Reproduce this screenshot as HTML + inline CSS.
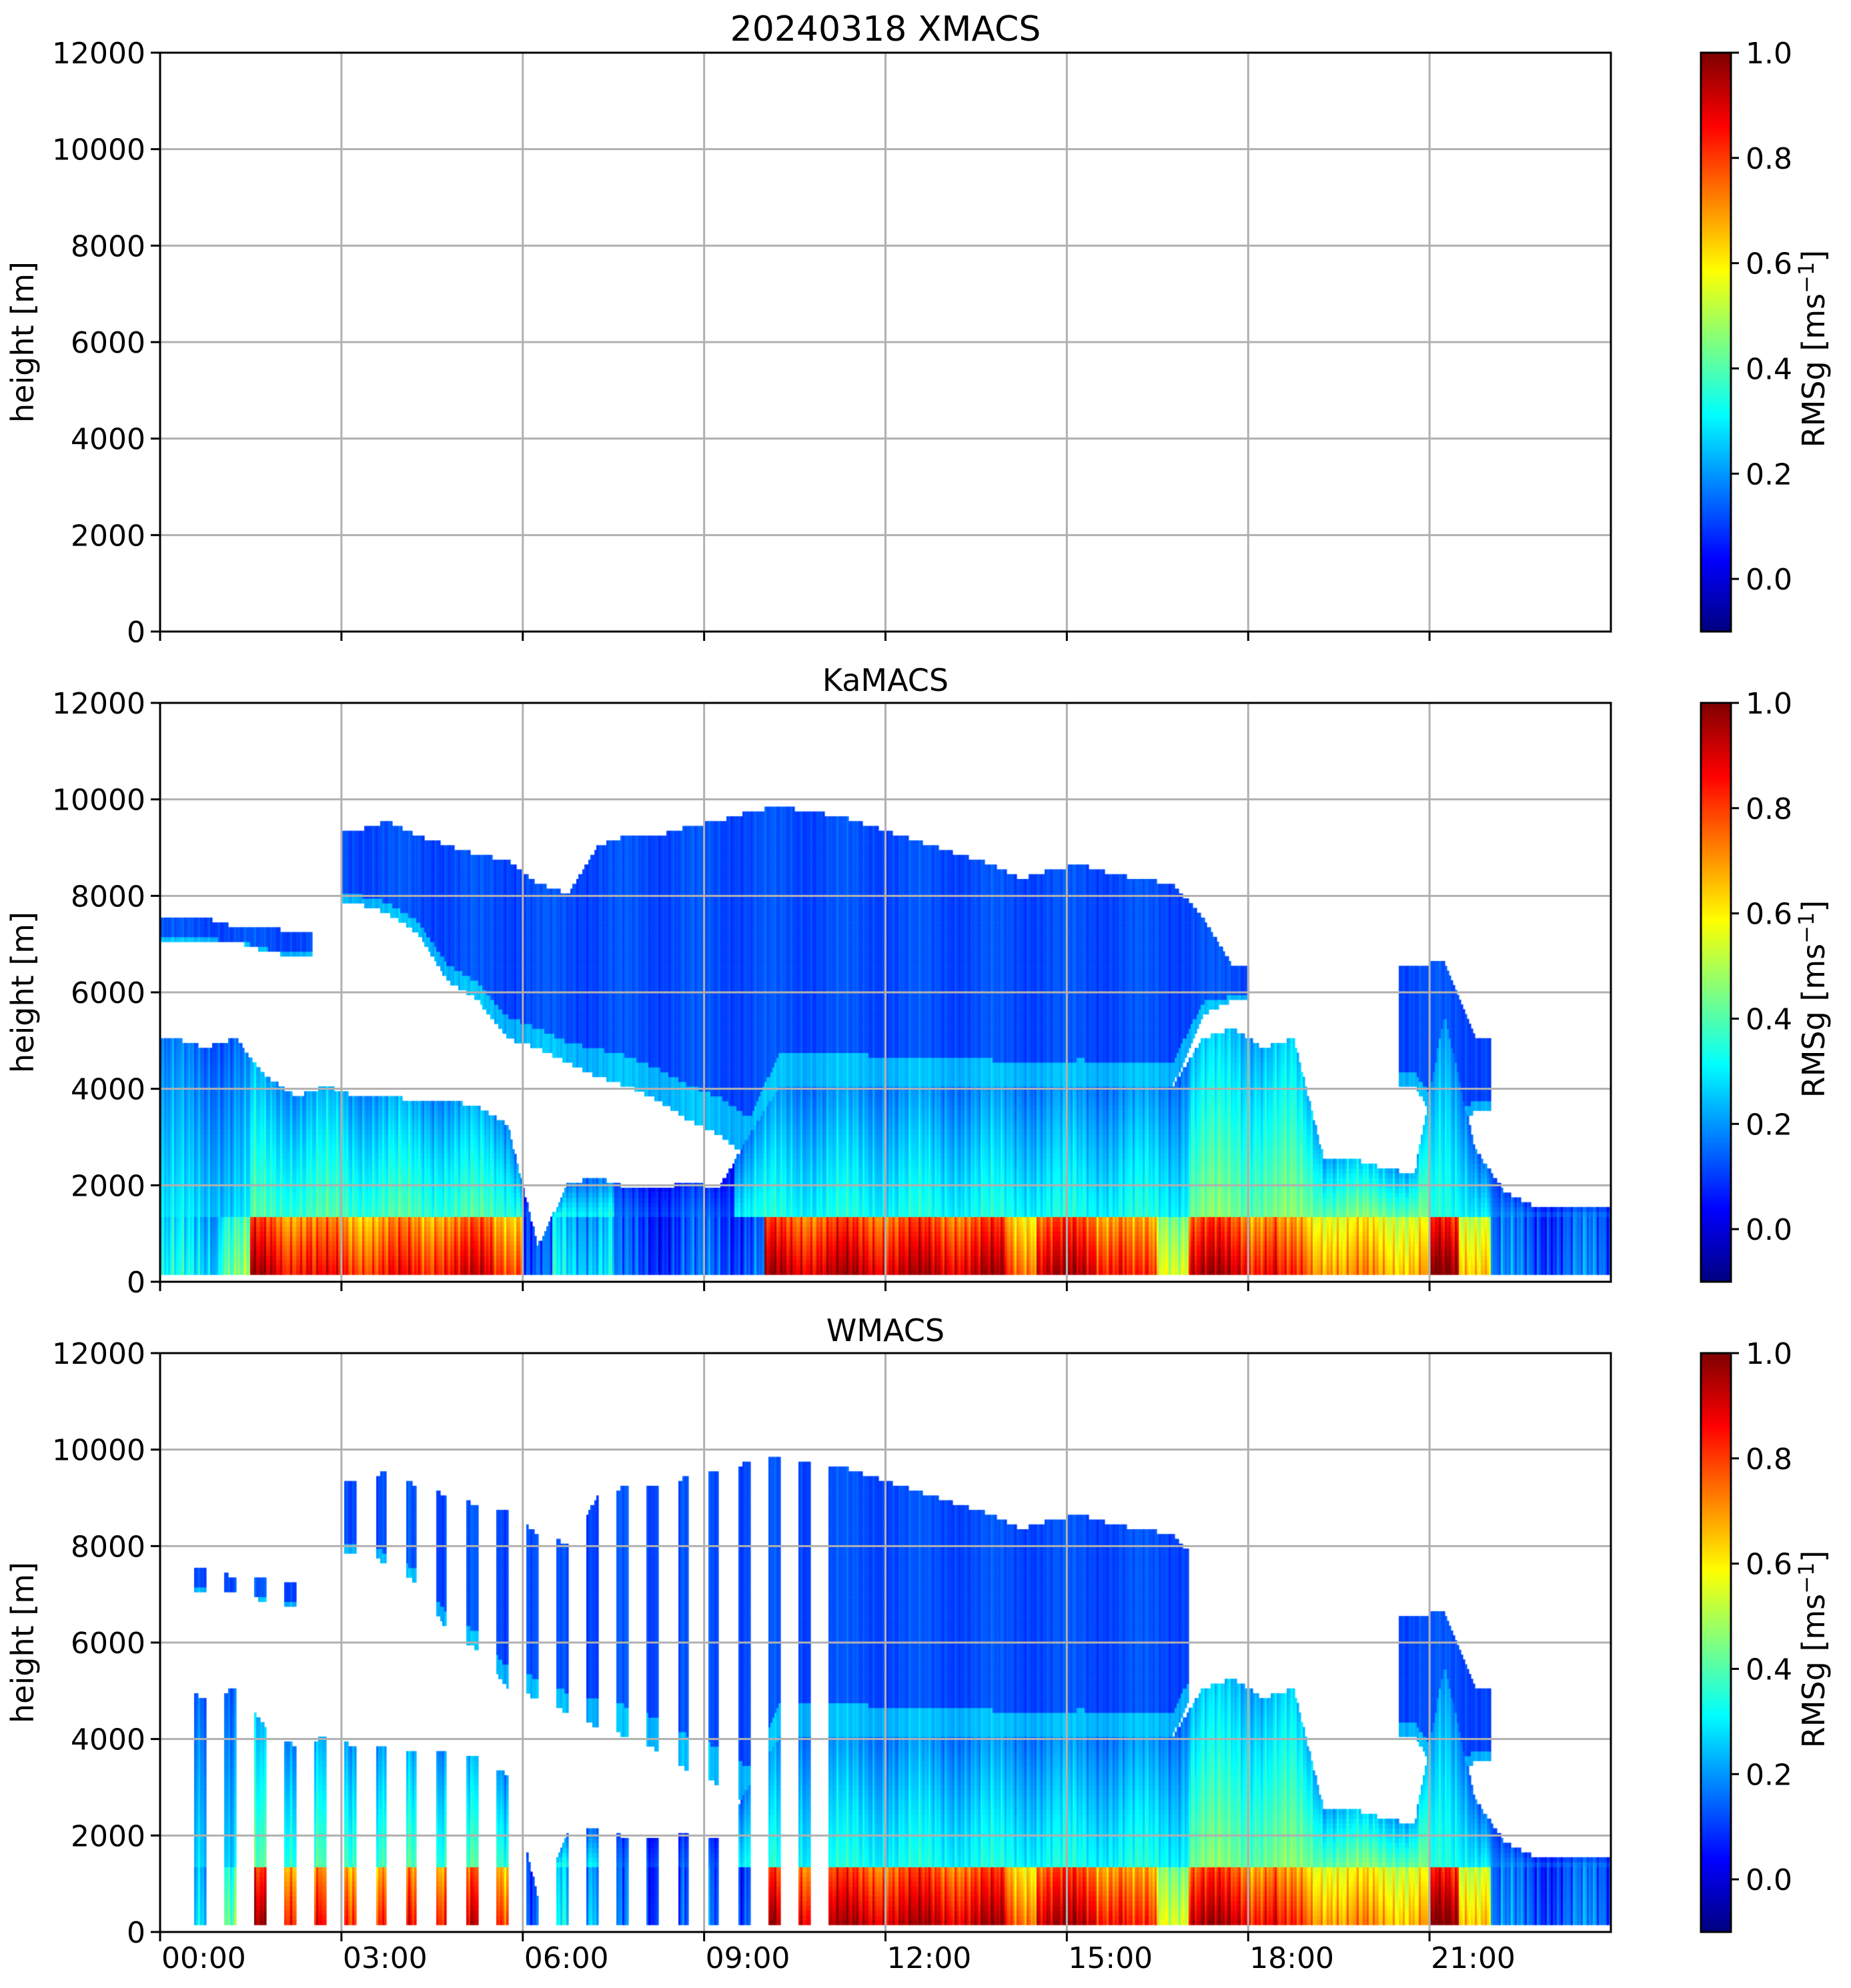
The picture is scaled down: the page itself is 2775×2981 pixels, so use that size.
<!DOCTYPE html>
<html><head><meta charset="utf-8">
<style>
html,body{margin:0;padding:0;background:#fff;}
#root{position:relative;width:2775px;height:2981px;overflow:hidden;font-family:"DejaVu Sans","Liberation Sans",sans-serif;}
canvas{position:absolute;}
svg{position:absolute;left:0;top:0;}
</style></head>
<body>
<div id="root">
<canvas id="cv" width="2775" height="2981" style="left:0;top:0"></canvas>
<svg id="sv" width="2775" height="2981"></svg>
</div>
<script>
// ---- data (half-hour bins, 48 bins covering 00:00-24:00) ----
const binHours = [0,0.5,1,1.5,2,2.5,3,3.5,4,4.5,5,5.5,6,6.5,7,7.5,8,8.5,9,9.5,10,10.5,11,11.5,12,12.5,13,13.5,14,14.5,15,15.5,16,16.5,17,17.5,18,18.5,19,19.5,20,20.5,21,21.5,22,22.5,23,23.5];
const lowTop  = [5000,4800,5000,4200,3800,4000,3800,3800,3700,3700,3600,3200,700,2000,2100,1900,1900,2000,1900,3000,4000,4000,4000,4000,4000,4000,4000,4000,4000,4000,4000,4000,4000,4000,5000,5200,4800,5000,2500,2500,2300,2200,5500,2700,1800,1500,1500,1500];
const upBase  = [7000,7000,7000,6800,6700,0,7800,7600,7200,6200,5800,5000,4800,4500,4200,4000,3700,3300,3000,2500,4000,4000,4000,4000,4000,4000,4000,4000,4000,4000,4000,4000,4000,4000,5500,5800,0,0,0,0,0,4000,3000,3500,0,0,0,0];
const upTop   = [7500,7500,7300,7300,7200,0,9300,9500,9200,9000,8800,8700,8200,8000,9000,9200,9200,9400,9500,9700,9800,9700,9600,9400,9200,9000,8800,8600,8300,8500,8600,8400,8300,8200,7500,6500,0,0,0,0,0,6500,6600,5000,0,0,0,0];
const blVal   = [0.3,0.3,0.45,0.95,0.9,0.85,0.85,0.85,0.85,0.9,0.9,0.85,0.12,0.3,0.3,0.12,0.12,0.12,0.15,0.15,0.95,0.95,0.95,0.95,0.95,0.95,0.95,0.95,0.8,0.95,0.95,0.9,0.8,0.6,0.95,0.95,0.9,0.8,0.75,0.7,0.7,0.7,1.0,0.7,0.15,0.15,0.15,0.15];
const lowVal  = [0.25,0.25,0.25,0.35,0.35,0.35,0.35,0.35,0.35,0.35,0.35,0.35,0.12,0.3,0.3,0.12,0.12,0.12,0.12,0.3,0.3,0.3,0.3,0.3,0.3,0.3,0.3,0.3,0.3,0.3,0.3,0.3,0.3,0.3,0.4,0.4,0.4,0.4,0.4,0.4,0.4,0.4,0.3,0.3,0.15,0.15,0.15,0.15];
const upVal   = [0.12,0.12,0.12,0.12,0.12,0.12,0.12,0.12,0.12,0.12,0.12,0.12,0.12,0.12,0.12,0.12,0.12,0.12,0.12,0.12,0.12,0.12,0.12,0.12,0.12,0.12,0.12,0.12,0.12,0.12,0.12,0.12,0.12,0.12,0.12,0.12,0.12,0.12,0.12,0.12,0.12,0.12,0.12,0.12,0.12,0.12,0.12,0.12];
const blTop   = 1300;
// W-band sampling stripes (start hours, each ~0.19 h wide) before continuous operation
const wStripeStarts = [0.56,1.06,1.56,2.06,2.56,3.06,3.56,4.06,4.56,5.06,5.56,6.06,6.56,7.06,7.56,8.06,8.56,9.06,9.56,10.06,10.56,11.06];
const wStripeWidth = 0.19;
const wContinuousFrom = 11.24;
const wUpperEnd = 17.0;
// axis ticks
const yTicks = [0,2000,4000,6000,8000,10000,12000];
const xTicks = [0,3,6,9,12,15,18,21];
const xTickLabels = ["00:00","03:00","06:00","09:00","12:00","15:00","18:00","21:00"];
const cbTicks = [0.0,0.2,0.4,0.6,0.8,1.0];
const panelTitles = ["20240318 XMACS","KaMACS","WMACS"];

// ---- layout ----
const AX_L=240, AX_R=2415, AX_H=868;
const panelTops=[79,1054,2029];
const CB_L=2550, CB_W=45;
const VMIN=-0.1, VMAX=1.0;
function xScale(h){return AX_L+(AX_R-AX_L)*h/24;}
function yScale(m,top){return top+AX_H-AX_H*m/12000;}
function jet(v){
  let x=(v-VMIN)/(VMAX-VMIN); x=Math.max(0,Math.min(1,x));
  const c=t=>Math.round(255*Math.max(0,Math.min(1,t)));
  return [c(1.5-Math.abs(4*x-3)),c(1.5-Math.abs(4*x-2)),c(1.5-Math.abs(4*x-1))];
}
function interp(arr,t){
  const f=t/0.5-0.5; let i=Math.floor(f); const w=f-i;
  const i0=Math.max(0,Math.min(47,i)), i1=Math.max(0,Math.min(47,i+1));
  const a=arr[i0], b=arr[i1];
  if(a===0||b===0) return arr[Math.max(0,Math.min(47,Math.floor(t/0.5)))];
  return a+(b-a)*w;
}
const ctx=document.getElementById('cv').getContext('2d');
function drawPanel(top,isW){
  const NC=725, NR=118;
  const cw=(AX_R-AX_L)/NC;
  for(let ci=0;ci<NC;ci++){
    const t=(ci+0.5)*24/NC;
    if(isW && t<wContinuousFrom){
      let on=false;
      for(const s of wStripeStarts){ if(t>=s && t<s+wStripeWidth) on=true; }
      if(!on) continue;
    }
    const bi=Math.min(47,Math.floor(t/0.5));
    const lt=interp(lowTop,t), ub=interp(upBase,t), ut=interp(upTop,t);
    const tex=0.09*Math.sin(ci*1.91)*Math.cos(ci*0.53)+0.05*Math.sin(ci*0.17);
    for(let ri=0;ri<NR;ri++){
      const h=150+ri*100;
      let v=null;
      if(h<Math.min(blTop,lt)){ v=blVal[bi]*(0.8+0.2*(1-h/blTop))+tex; }
      else if(h<lt){ const fr=(h-blTop)/Math.max(1,lt-blTop); v=lowVal[bi]*(1.1-0.5*fr)+tex*0.6; }
      else if(upTop[bi]>0 && h>=ub && h<ut && !(isW && t>wUpperEnd && t<20.5)){ const fr=(h-ub)/Math.max(1,ut-ub); v=upVal[bi]+ (fr<0.12?0.12:0)+tex*0.3; }
      if(v===null) continue;
      const [r,g,b]=jet(v);
      ctx.fillStyle=`rgb(${r},${g},${b})`;
      const y0=yScale(h+100,top), y1=yScale(h,top);
      ctx.fillRect(AX_L+ci*cw,y0,cw+0.6,y1-y0+0.6);
    }
  }
}
drawPanel(panelTops[1],false);
drawPanel(panelTops[2],true);
// colorbars
for(const top of panelTops){
  for(let y=0;y<AX_H;y++){
    const v=VMAX-(VMAX-VMIN)*y/AX_H;
    const [r,g,b]=jet(v);
    ctx.fillStyle=`rgb(${r},${g},${b})`;
    ctx.fillRect(CB_L,top+y,CB_W,1.2);
  }
}
// ---- SVG axes ----
const NS="http://www.w3.org/2000/svg";
const sv=document.getElementById('sv');
function el(tag,attrs,parent,text){
  const e=document.createElementNS(NS,tag);
  for(const k in attrs) e.setAttribute(k,attrs[k]);
  if(text!==undefined) e.textContent=text;
  (parent||sv).appendChild(e); return e;
}
panelTops.forEach((top,pi)=>{
  const g=el('g',{});
  
  
  yTicks.forEach(m=>{
    const y=yScale(m,top);
    const l=el('line',{x1:AX_L,x2:AX_R,y1:y,y2:y,stroke:'#b0b0b0','stroke-width':3},g);
    
    
    const tk=el('line',{x1:AX_L-14,x2:AX_L,y1:y,y2:y,stroke:'#000','stroke-width':3},g);
    
    
    const tx=el('text',{x:AX_L-22,y:y+16,'text-anchor':'end','font-size':44,fill:'#000'},g,String(m));
    
    
  });
  xTicks.forEach((h,i)=>{
    const x=xScale(h);
    if(h>0){
      const l=el('line',{x1:x,x2:x,y1:top,y2:top+AX_H,stroke:'#b0b0b0','stroke-width':3},g);
      
      
    }
    const tk=el('line',{x1:x,x2:x,y1:top+AX_H,y2:top+AX_H+14,stroke:'#000','stroke-width':3},g);
    
    
    if(pi===2){
      const tx=el('text',{x:x+2,y:top+AX_H+54,'text-anchor':'start','font-size':44,fill:'#000'},g,xTickLabels[i]);
      
      
    }
  });
  const fr=el('rect',{x:AX_L,y:top,width:AX_R-AX_L,height:AX_H,fill:'none',stroke:'#000','stroke-width':3},g);
  
  
  const ti=el('text',{x:(AX_L+AX_R)/2,y:top-18,'text-anchor':'middle','font-size':pi===0?52:46,fill:'#000'},g,panelTitles[pi]);
  
  
  const yl=el('text',{x:0,y:0,'text-anchor':'middle','font-size':46,fill:'#000',transform:`translate(50,${top+AX_H/2}) rotate(-90)`},g,'height [m]');
  
  
  const cb=el('rect',{x:CB_L,y:top,width:CB_W,height:AX_H,fill:'none',stroke:'#000','stroke-width':3},g);
  
  
  cbTicks.forEach(v=>{
    const y=top+AX_H*(VMAX-v)/(VMAX-VMIN);
    const tk=el('line',{x1:CB_L+CB_W,x2:CB_L+CB_W+12,y1:y,y2:y,stroke:'#000','stroke-width':3},g);
    
    
    const tx=el('text',{x:CB_L+CB_W+22,y:y+16,'font-size':44,fill:'#000'},g,v.toFixed(1));
    
    
  });
  const cl=el('text',{x:0,y:0,'text-anchor':'middle','font-size':46,fill:'#000',transform:`translate(2735,${top+AX_H/2+10}) rotate(-90)`},g);
  
  
  el('tspan',{},cl,'RMSg [ms');
  el('tspan',{dy:-16,'font-size':32},cl,'\u22121');
  el('tspan',{dy:16},cl,']');
});
</script>
</body></html>
